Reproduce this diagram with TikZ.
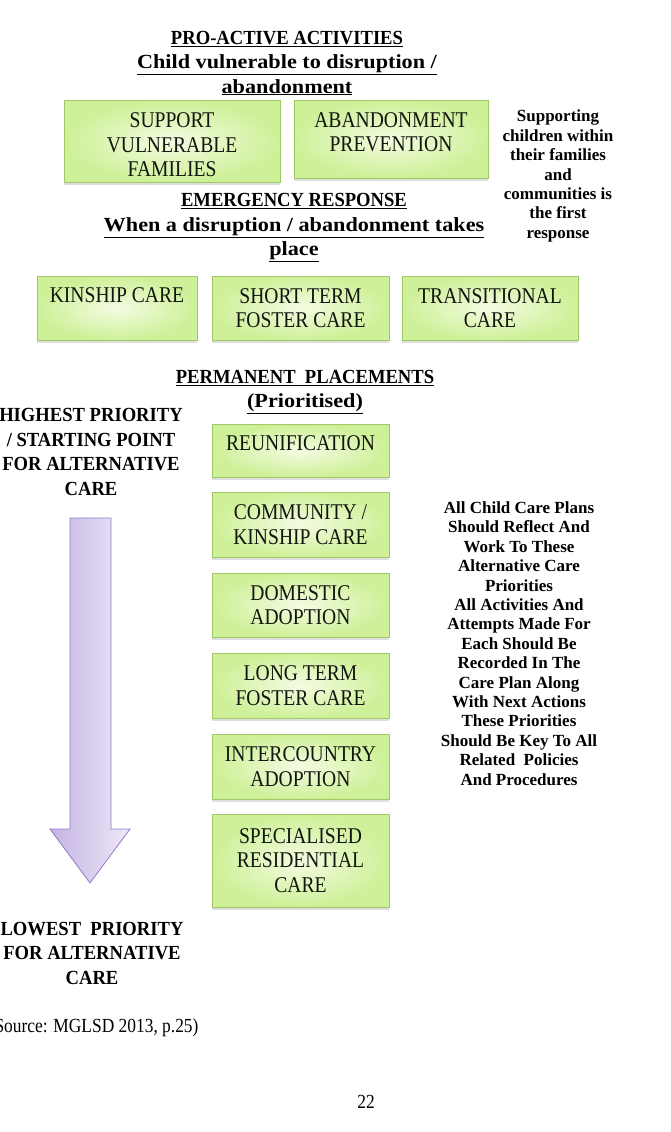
\documentclass[tikz,border=0pt]{standalone}
\usepackage{fontspec}
\setmainfont[FakeStretch=0.87,BoldFeatures={FakeStretch=0.93}]{Liberation Serif}
\newfontfamily\widebold[FakeStretch=1.11,BoldFeatures={FakeStretch=1.11}]{Liberation Serif}
\newfontfamily\notebold[FakeStretch=1.0,BoldFeatures={FakeStretch=1.0}]{Liberation Serif}
\usetikzlibrary{shadows}
\definecolor{boxgreen}{RGB}{160,200,100}
\definecolor{boxlight}{RGB}{244,252,226}
\definecolor{boxdark}{RGB}{206,240,152}
\definecolor{boxtext}{RGB}{18,22,14}
\definecolor{arrowline}{RGB}{142,124,195}
\definecolor{arrowdark}{RGB}{197,179,227}
\definecolor{arrowlight}{RGB}{238,232,248}
\tikzset{
  carebox/.style={draw=boxgreen,line width=0.8pt,inner color=boxlight,outer color=boxdark,
    text=boxtext,align=center,inner sep=0pt,font=\fontsize{22.5}{24.5}\selectfont,
    drop shadow={shadow xshift=0pt,shadow yshift=-2.5pt,opacity=0.25}},
  heading/.style={align=center,font=\bfseries\fontsize{20}{24.5}\selectfont},
  sidenote/.style={align=center,font=\notebold\bfseries\fontsize{17}{19.4}\selectfont}
}

\begin{document}
\begin{tikzpicture}[x=1pt,y=-1pt]
        \useasboundingbox (0,0) rectangle (670,1132);
        % pro-active
        \node[heading] (proactive) at (287,63) {\underline{PRO-ACTIVE ACTIVITIES}\\\underline{\widebold Child vulnerable to disruption /}\\\underline{\widebold abandonment}};
        \node[carebox,minimum width=216pt,minimum height=82pt] (support) at (172,141) {\rule{0pt}{23pt}SUPPORT\\VULNERABLE\\FAMILIES};
        \node[carebox,minimum width=194pt,minimum height=78pt,text depth=13.5pt] (prevention) at (391,139) {ABANDONMENT\\PREVENTION};
        \node[sidenote] (firstresp) at (558,176) {Supporting\\children within\\their families\\and\\communities is\\the first\\response};
        % emergency
        \node[heading] (emergency) at (294,228) {\underline{EMERGENCY RESPONSE}\\\underline{\widebold When a disruption / abandonment takes}\\\underline{\widebold place}};
        \node[carebox,minimum width=160pt,minimum height=64pt,text depth=26pt] (kinship) at (117,308) {KINSHIP CARE};
        \node[carebox,minimum width=177pt,minimum height=64pt] (shortterm) at (300.5,308) {SHORT TERM\\FOSTER CARE};
        \node[carebox,minimum width=176pt,minimum height=64pt] (transitional) at (490,308) {TRANSITIONAL\\CARE};
        % permanent
        \node[heading] (permanent) at (305,392) {\underline{PERMANENT\ \ PLACEMENTS}\\\underline{\widebold (Prioritised)}};
        \node[heading] (highest) at (91,452) {HIGHEST PRIORITY\\/ STARTING POINT\\FOR ALTERNATIVE\\CARE};
        \node[carebox,minimum width=177pt,minimum height=53pt,text depth=15pt] (reunif) at (300.5,450.5) {REUNIFICATION};
        \node[carebox,minimum width=177pt,minimum height=65pt] (community) at (300.5,524.5) {COMMUNITY /\\KINSHIP CARE};
        \node[carebox,minimum width=177pt,minimum height=64pt] (domestic) at (300.5,605) {DOMESTIC\\ADOPTION};
        \node[carebox,minimum width=177pt,minimum height=65pt] (longterm) at (300.5,685.5) {LONG TERM\\FOSTER CARE};
        \node[carebox,minimum width=177pt,minimum height=65pt] (intercountry) at (300.5,766.5) {INTERCOUNTRY\\ADOPTION};
        \node[carebox,minimum width=177pt,minimum height=93pt] (residential) at (300.5,860.5) {SPECIALISED\\RESIDENTIAL\\CARE};
        \node[sidenote] (plans) at (519,643.5) {All Child Care Plans\\Should Reflect And\\Work To These\\Alternative Care\\Priorities\\All Activities And\\Attempts Made For\\Each Should Be\\Recorded In The\\Care Plan Along\\With Next Actions\\These Priorities\\Should Be Key To All\\Related\ \ Policies\\And Procedures};
        % priority arrow
        \draw[arrowline,line width=0.8pt,left color=arrowdark,right color=arrowlight]
          (70,518) -- (111,518) -- (111,829) -- (130,829) -- (90,883) -- (50,829) -- (70,829) -- cycle;
        \node[heading] (lowest) at (92,953) {LOWEST\ \ PRIORITY\\FOR ALTERNATIVE\\CARE};
        \node[anchor=east,font=\fontsize{20}{24}\selectfont] (source) at (202,1028) {Source: MGLSD 2013, p.25)};
        \node[font=\fontsize{20}{24}\selectfont] (pagenum) at (366,1102) {22};
      \end{tikzpicture}
\end{document}
